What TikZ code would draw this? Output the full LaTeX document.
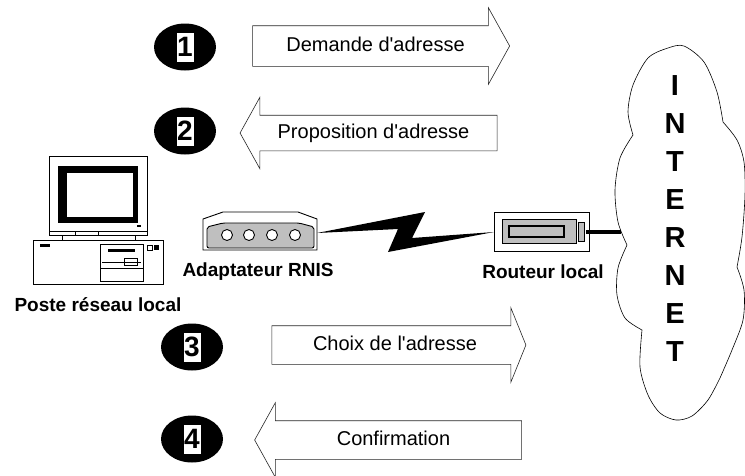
\documentclass[tikz,border=0pt]{standalone}
\usepackage{fontspec}
\setmainfont{Liberation Sans}
\usetikzlibrary{shapes.geometric,shapes.arrows}

\tikzset{
  badge/.style={ellipse,fill=black,minimum width=62pt,minimum height=47pt,inner sep=0pt},
  digit/.style={fill=white,inner sep=0pt,minimum width=17pt,minimum height=29pt,
    font=\bfseries\fontsize{28}{28}\selectfont},
  msg/.style={single arrow,draw=black!85,line width=0.6pt,fill=white,
    inner xsep=0pt,inner ysep=11pt,text height=14pt,text depth=4pt,
    single arrow head extend=18pt,single arrow tip angle=122,
    font=\fontsize{20}{20}\selectfont},
  back/.style={shape border rotate=180},
  devname/.style={font=\bfseries\fontsize{19}{19}\selectfont},
  netchar/.style={font=\bfseries\fontsize{29}{29}\selectfont,inner sep=0pt},
  dev/.style={line width=0.9pt},
}
\newcommand{\apos}{\textquotesingle}

\begin{document}
\begin{tikzpicture}[x=1pt,y=-1pt]
  \useasboundingbox (0,0) rectangle (745,475);

  % numbered steps
  \node[badge] (b1) at (185,47) {};
  \node[digit] (d1) at (b1) {1};
  \node[badge] (b2) at (185,131) {};
  \node[digit] (d2) at (b2) {2};
  \node[badge] (b3) at (192,347) {};
  \node[digit] (d3) at (b3) {3};
  \node[badge] (b4) at (192,439) {};
  \node[digit] (d4) at (b4) {4};

  % messages
  \node[msg,minimum height=257pt] (m1) at (375.5,46) {Demande d\apos adresse};
  \node[msg,back,minimum height=257pt,inner ysep=8.5pt] (m2) at (373.5,133) {Proposition d\apos adresse};
  \node[msg,minimum height=254pt,inner ysep=10pt,single arrow tip angle=136] (m3) at (395,345) {Choix de l\apos adresse};
  \node[msg,back,minimum height=267pt,inner ysep=10pt] (m4) at (393.5,440) {Confirmation};

  % poste: monitor
  \begin{scope}[dev]
    \draw (49,156) rectangle (147,235);
    \fill (58,166) rectangle (138,223);
    \draw[fill=white] (66,172) rectangle (133,217);
    \draw (49,231) -- (147,231) (75,231) -- (75,235) (98,231) -- (98,235);
    \fill (137,225) rectangle (141,227);
    \draw (62,235) -- (62,240) (135,235) -- (135,240);
    % poste: base unit
    \draw (33,240) rectangle (163,284);
    \fill (40,244) rectangle (50,247);
    \draw (100,244) rectangle (143,281);
    \fill (108,249) rectangle (135,252);
    \draw (102,262) -- (141,262);
    \draw (124,258) rectangle (137,265);
    \draw (100,268) -- (143,268);
    \draw (147,245) rectangle (152,250);
    \fill (154,245) rectangle (159,250);
  \end{scope}
  \node[devname] (poste) at (98,305) {Poste réseau local};

  % adaptateur RNIS
  \draw[dev,fill=white] (203,250) -- (203,219) -- (223,212) -- (298,212) -- (317,219) -- (317,250) -- cycle;
  \draw[dev,fill=gray!50,rounded corners=2pt] (207,248) -- (207,227) -- (223,223) -- (299,223) -- (314,227) -- (314,248) -- cycle;
  \foreach \x in {227,249,272,295}
    \draw[dev,fill=white] (\x,235) circle (5.5pt);
  \coordinate (adp) at (317,233);
  \node[devname] (adapt) at (258,272) {Adaptateur RNIS};

  % routeur local
  \draw[dev,fill=white] (494,212) rectangle (589,251);
  \draw[fill=gray!50] (502,219) rectangle (576,243);
  \draw[line width=1.5pt,fill=gray!50] (509,226) rectangle (564,237);
  \draw[dev,fill=gray!50] (578,222) rectangle (584,241);
  \coordinate (rtr) at (494,232);
  \coordinate (port) at (586,232);
  \node[devname] (routeur) at (543,272) {Routeur local};

  % liaison RNIS
  \fill (adp) -- (425,212) -- (412,238) -- (rtr) -- (388,252) -- (398,229) -- cycle;

  % internet
  \draw[line width=0.6pt]
    plot[smooth] coordinates {(633,135) (628,112) (633,85) (648,58) (668,48) (684,46) (704,62) (717,92) (723,122)}
    -- plot[smooth] coordinates {(723,122) (737,140) (744,162) (745,195) (742,237) (737,267)}
    -- plot[smooth] coordinates {(737,267) (744,290) (743,320) (732,350) (720,378)}
    -- plot[smooth] coordinates {(720,378) (708,400) (692,416) (676,420) (660,413) (648,395) (640,367) (642,330)}
    -- plot[smooth] coordinates {(642,330) (625,318) (617,295) (618,268) (627,245)}
    -- plot[smooth] coordinates {(627,245) (618,222) (615,190) (620,158) (633,135)}
    -- cycle;
  \coordinate (net) at (621,232);
  \foreach \c [count=\i] in {I,N,T,E,R,N,E,T}
    \node[netchar] (n\i) at (675,48+38*\i) {\c};

  \draw[line width=4pt] (port) -- (net);
\end{tikzpicture}
\end{document}
